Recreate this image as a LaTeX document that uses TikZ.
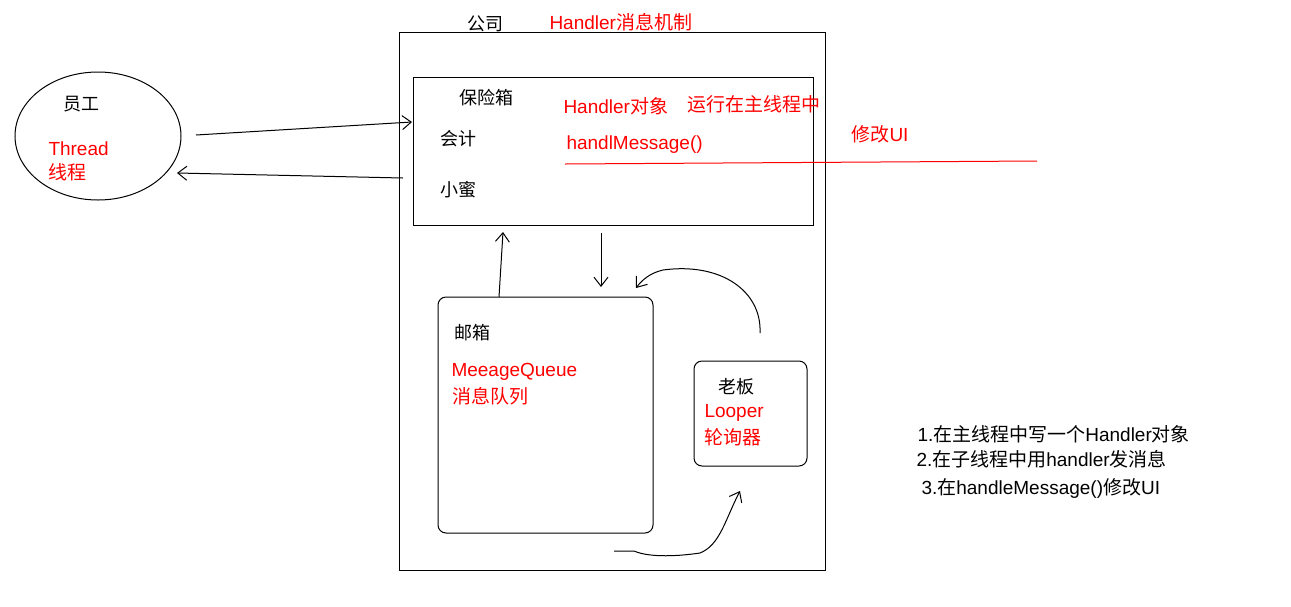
\documentclass[tikz,border=0pt]{standalone}
\usepackage{fontspec}
\setmainfont{Liberation Sans}
\newfontfamily\cjk{Noto Sans CJK SC}
\usetikzlibrary{arrows.meta, positioning, shapes.geometric}
\tikzset{
  >={Straight Barb[length=9pt,width=14pt]}, % open arrow heads, like a paint sketch
  every node/.style={inner sep=0pt, font=\fontsize{19}{21}\selectfont},
  box/.style={draw, line width=1pt}, % plain frame
  roundbox/.style={box, rounded corners=8pt},
  redtxt/.style={text=red, anchor=west},
  blacktxt/.style={text=black, anchor=west},
  label/.style={blacktxt, font=\fontsize{18}{20}\selectfont}, % black names inside the shapes
  link/.style={->, line width=1pt},
}

\begin{document}
\begin{tikzpicture}[x=1pt, y=-1pt, line width=1pt]
  \useasboundingbox (0,0) rectangle (1291,606);

  % employee
  \node[box, ellipse, minimum width=166pt, minimum height=128pt] (yuangong) at (98,136) {};
  \node[label] (yg) at (63,104) {\cjk 员工};
  \node[redtxt] (thread) at (48,149) {Thread};
  \node[redtxt] (xiancheng) at (48,172) {\cjk 线程};

  % company
  \node[box, minimum width=426pt, minimum height=538pt] (gongsi) at (612,301) {};
  \node[label] (gs) at (467,24) {\cjk 公司};
  \node[redtxt] (title) at (549,22) {Handler{\cjk 消息机制}};

  % safe box
  \node[box, minimum width=400pt, minimum height=148pt] (baoxian) at (613,151) {};
  \node[label] (bx) at (459,98) {\cjk 保险箱};
  \node[label] (kuaiji) at (440,139) {\cjk 会计};
  \node[label] (xiaomi) at (440,190) {\cjk 小蜜};
  \node[redtxt] (handler) at (563,106) {Handler{\cjk 对象}};
  \node[redtxt] (zhu) at (687,104) {\cjk 运行在主线程中};
  \node[redtxt] (handle) at (566,145) {handlMessage()};
  \node[redtxt] (ui) at (851,134) {{\cjk 修改}UI};

  % mailbox and boss
  \node[roundbox, minimum width=215pt, minimum height=236pt] (youxiang) at (545.5,415) {};
  \node[label] (yx) at (454,333) {\cjk 邮箱};
  \node[redtxt] (queue) at (451,372) {MeeageQueue};
  \node[redtxt] (duilie) at (452,396) {\cjk 消息队列};
  \node[roundbox, minimum width=113pt, minimum height=105pt] (laoban) at (750.5,413.5) {};
  \node[label] (lb) at (718,387) {\cjk 老板};
  \node[redtxt] (looper) at (704,413) {Looper};
  \node[redtxt] (lunxun) at (704,437) {\cjk 轮询器};

  % steps
  \node[blacktxt] (s1) at (917,434) {1.{\cjk 在主线程中写一个}Handler{\cjk 对象}};
  \node[blacktxt] (s2) at (916,459) {2.{\cjk 在子线程中用}handler{\cjk 发消息}};
  \node[blacktxt] (s3) at (921,488) {3.{\cjk 在}handleMessage(){\cjk 修改}UI};

  \coordinate (a1) at (196,135);
  \coordinate (b1) at (412,122);
  \coordinate (a2) at (403,178);
  \coordinate (b2) at (177,173);
  \coordinate (a3) at (499,297);
  \coordinate (b3) at (503,232);
  \coordinate (a4) at (601,233);
  \coordinate (b4) at (601,287);
  \coordinate (a5) at (760,333);
  \coordinate (b5) at (636,288);
  \coordinate (a6) at (614,551);
  \coordinate (b6) at (740,491);
  \coordinate (u1) at (565,164);
  \coordinate (u2) at (1037,161);

  \draw[link] (a1) -- (b1);
  \draw[link] (a2) -- (b2);
  \draw[link] (a3) -- (b3);
  \draw[link] (a4) -- (b4);
  \draw[link] (a5) .. controls (762,292) and (722,262) .. (663,270)
                   .. controls (650,273) and (642,280) .. (b5);
  \draw[link] (a6) -- (634,551) .. controls (650,558) and (680,556) .. (700,553)
                   .. controls (720,545) and (725,520) .. (b6);
  \draw[red, line width=1pt] (u1) -- (u2);
\end{tikzpicture}
\end{document}
